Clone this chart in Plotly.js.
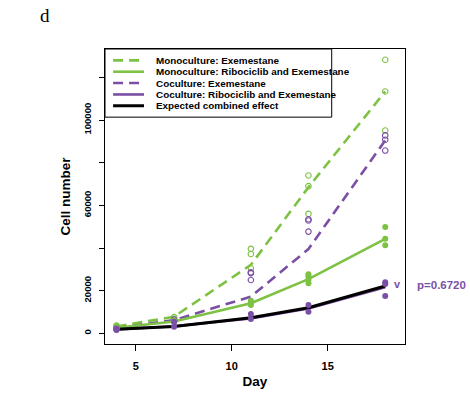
<!DOCTYPE html>
<html>
<head>
<meta charset="utf-8">
<script src="https://cdn.plot.ly/plotly-3.0.1.min.js"></script>
<style>html,body{margin:0;padding:0;background:#fff;}#chart{width:470px;height:396px;}</style>
</head>
<body>
<div id="chart"></div>
<script>
// ---- data ----
var days = [4, 7, 11, 14, 18];
var seriesNames = [
  "Monoculture: Exemestane",
  "Monoculture: Ribociclib and Exemestane",
  "Coculture: Exemestane",
  "Coculture: Ribociclib and Exemestane",
  "Expected combined effect"
];
var monoExeMean     = [3200, 7800, 32100, 68500, 113400];
var monoRibExeMean  = [2600, 5500, 14100, 25400, 44300];
var coExeMean       = [2400, 6200, 17200, 39500, 90500];
var coRibExeMean    = [1800, 3300, 7000, 11600, 21600];
var expectedMean    = [1900, 3200, 7300, 12000, 22200];

// replicate points
var monoExePtsX = [4, 4, 4, 7, 7, 11, 11, 11, 14, 14, 14, 18, 18, 18];
var monoExePtsY = [2800, 3300, 3600, 6800, 7600, 39600, 37200, 30500, 74000, 69000, 56000, 128300, 113400, 95100];
var coExePtsX = [4, 4, 4, 7, 7, 11, 11, 11, 14, 14, 14, 18, 18, 18];
var coExePtsY = [1900, 2300, 2700, 5600, 6400, 28600, 28200, 25000, 53500, 52900, 47700, 92800, 90800, 85700];
var monoRibExePtsX = [4, 4, 4, 7, 7, 11, 11, 11, 14, 14, 14, 14, 18, 18, 18];
var monoRibExePtsY = [2400, 2800, 3100, 5200, 6000, 15300, 14100, 13300, 27700, 26600, 25000, 23500, 49900, 44300, 41300];
var coRibExePtsX = [4, 4, 4, 7, 7, 11, 11, 14, 14, 18, 18, 18];
var coRibExePtsY = [1500, 1900, 2300, 3100, 5400, 9100, 6700, 13300, 10100, 23900, 23100, 17500];

var yTickVals = [0, 20000, 40000, 60000, 80000, 100000, 120000];
var yTickText = ["0", "20000", "", "60000", "", "100000", ""];
var xTickVals = [5, 10, 15];
var pValueText = "p=0.6720";

// ---- styles ----
var green = "#7DC242";
var purple = "#7B4FA6";
var dashPat = "10px,6px";
var sans = "Liberation Sans, Arial, sans-serif";

var traces = [
  {x: days, y: monoExeMean, mode: "lines", line: {color: green, width: 2.6, dash: dashPat}, name: seriesNames[0]},
  {x: days, y: coExeMean, mode: "lines", line: {color: purple, width: 2.6, dash: dashPat}, name: seriesNames[2]},
  {x: days, y: monoRibExeMean, mode: "lines", line: {color: green, width: 2.6}, name: seriesNames[1]},
  {x: days, y: coRibExeMean, mode: "lines", line: {color: purple, width: 2.6}, name: seriesNames[3]},
  {x: days, y: expectedMean, mode: "lines", line: {color: "#000000", width: 3}, name: seriesNames[4]},
  {x: monoExePtsX, y: monoExePtsY, mode: "markers", marker: {symbol: "circle-open", size: 5.5, color: green, line: {width: 1.1}}, name: seriesNames[0] + " (replicates)"},
  {x: coExePtsX, y: coExePtsY, mode: "markers", marker: {symbol: "circle-open", size: 5.5, color: purple, line: {width: 1.1}}, name: seriesNames[2] + " (replicates)"},
  {x: monoRibExePtsX, y: monoRibExePtsY, mode: "markers", marker: {symbol: "circle", size: 6, color: green}, name: seriesNames[1] + " (replicates)"},
  {x: coRibExePtsX, y: coRibExePtsY, mode: "markers", marker: {symbol: "circle", size: 6, color: purple}, name: seriesNames[3] + " (replicates)"}
];
traces.forEach(function(t){ t.showlegend = false; t.hoverinfo = "x+y+name"; });

// manual R-style legend
var legColors = [green, green, purple, purple, "#000000"];
var legDash = ["dash", "solid", "dash", "solid", "solid"];
var legY = [0.9613, 0.923, 0.8846, 0.8459, 0.8076];
var shapes = [
  {type: "rect", xref: "paper", yref: "paper", x0: 0, x1: 0.7557, y0: 0.769, y1: 1.0, line: {color: "#000", width: 1}, fillcolor: "#fff", layer: "above"}
];
var annotations = [];
for (var i = 0; i < seriesNames.length; i++) {
  shapes.push({type: "line", xref: "paper", yref: "paper", x0: 0.027, x1: 0.13, y0: legY[i], y1: legY[i],
    line: {color: legColors[i], width: i === 4 ? 3 : 2.6, dash: legDash[i] === "dash" ? dashPat : "solid"}, layer: "above"});
  annotations.push({xref: "paper", yref: "paper", x: 0.163, y: legY[i], xanchor: "left", yanchor: "middle",
    text: "<b>" + seriesNames[i] + "</b>", showarrow: false, font: {family: sans, size: 9.9, color: "#000"}});
}
annotations.push({xref: "paper", yref: "y", x: 1.12, y: 22700, xanchor: "center", yanchor: "middle",
  text: "<b>" + pValueText + "</b>", showarrow: false, font: {family: sans, size: 11.5, color: purple}});
annotations.push({xref: "x", yref: "y", x: 18.66, y: 23300, xanchor: "center", yanchor: "middle",
  text: "<b>v</b>", showarrow: false, font: {family: sans, size: 11, color: purple}});
annotations.push({xref: "paper", yref: "paper", x: -0.2, y: 1.113, xanchor: "center", yanchor: "middle",
  text: "d", showarrow: false, font: {family: "Liberation Serif, Times New Roman, serif", size: 19, color: "#000"}});

var layout = {
  width: 470, height: 396,
  margin: {l: 105, r: 65, t: 49, b: 52},
  paper_bgcolor: "#fff", plot_bgcolor: "#fff",
  showlegend: false,
  font: {family: sans, color: "#000"},
  xaxis: {
    range: [3.4, 19.03], tickvals: xTickVals, ticks: "outside", ticklen: 6, tickwidth: 1, tickcolor: "#000",
    ticklabelstandoff: 6,
    showline: true, mirror: true, linecolor: "#000", linewidth: 1, showgrid: false, zeroline: false,
    tickfont: {size: 11, family: sans, weight: "bold"},
    title: {text: "<b>Day</b>", font: {size: 13.5}, standoff: 5}
  },
  yaxis: {
    range: [-5020, 133330], tickvals: yTickVals, ticktext: yTickText, tickangle: -90,
    ticks: "outside", ticklen: 5, tickwidth: 1, tickcolor: "#000",
    ticklabelstandoff: 4,
    showline: true, mirror: true, linecolor: "#000", linewidth: 1, showgrid: false, zeroline: false,
    tickfont: {size: 9.5, family: sans, weight: "bold"},
    title: {text: "<b>Cell number</b>", font: {size: 13.5}, standoff: 8}
  },
  shapes: shapes,
  annotations: annotations
};

Plotly.newPlot("chart", traces, layout, {displayModeBar: false, staticPlot: true});
</script>
</body>
</html>
